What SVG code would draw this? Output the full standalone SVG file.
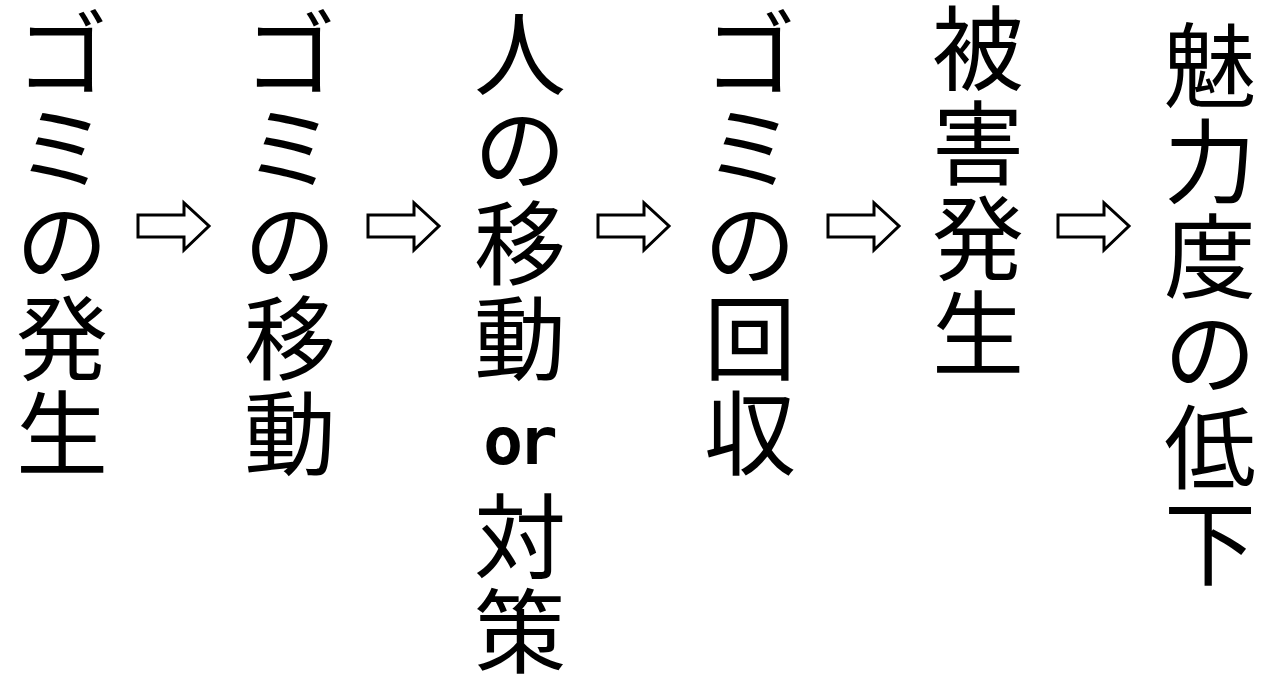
<svg xmlns="http://www.w3.org/2000/svg" width="1266" height="677" viewBox="0 0 1266 677">
<style>
.t{font-family:"Noto Sans CJK JP","Noto Sans CJK SC",sans-serif;font-size:92px;fill:#000;text-anchor:middle}
.or{font-family:"DejaVu Sans Mono","Liberation Mono",monospace;font-size:66px;font-weight:bold;letter-spacing:-5px;fill:#000;text-anchor:middle}
.arr{fill:#fff;stroke:#000;stroke-width:3;stroke-linejoin:miter}
</style>
<defs>
<path id="arrow" class="arr" d="M0,12 H46 V0 L71,23 L46,47 V34 H0 Z"/>
</defs>
<rect width="1266" height="677" fill="#fff"/>
<g id="connectors">
<use href="#arrow" x="138" y="203"/>
<use href="#arrow" x="368" y="203"/>
<use href="#arrow" x="598" y="203"/>
<use href="#arrow" x="828" y="203"/>
<use href="#arrow" x="1058" y="203"/>
</g>
<g id="node1">
<text class="t"><tspan x="62" y="88">ゴ</tspan><tspan x="62" y="183">ミ</tspan><tspan x="62" y="278">の</tspan><tspan x="62" y="373">発</tspan><tspan x="62" y="468">生</tspan></text>
</g>
<g id="node2">
<text class="t"><tspan x="290" y="88">ゴ</tspan><tspan x="290" y="183">ミ</tspan><tspan x="290" y="278">の</tspan><tspan x="290" y="373">移</tspan><tspan x="290" y="468">動</tspan></text>
</g>
<g id="node3">
<text class="t"><tspan x="520" y="88">人</tspan><tspan x="520" y="183">の</tspan><tspan x="520" y="278">移</tspan><tspan x="520" y="373">動</tspan></text>
<text class="or" x="518" y="464">or</text>
<text class="t"><tspan x="520" y="571">対</tspan><tspan x="520" y="666">策</tspan></text>
</g>
<g id="node4">
<text class="t"><tspan x="750" y="88">ゴ</tspan><tspan x="750" y="183">ミ</tspan><tspan x="750" y="278">の</tspan><tspan x="750" y="373">回</tspan><tspan x="750" y="468">収</tspan></text>
</g>
<g id="node5">
<text class="t"><tspan x="978" y="83">被</tspan><tspan x="978" y="178">害</tspan><tspan x="978" y="273">発</tspan><tspan x="978" y="368">生</tspan></text>
</g>
<g id="node6">
<text class="t"><tspan x="1210" y="100">魅</tspan><tspan x="1210" y="196">力</tspan><tspan x="1210" y="291">度</tspan><tspan x="1210" y="387">の</tspan><tspan x="1210" y="482">低</tspan><tspan x="1210" y="578">下</tspan></text>
</g>
</svg>
